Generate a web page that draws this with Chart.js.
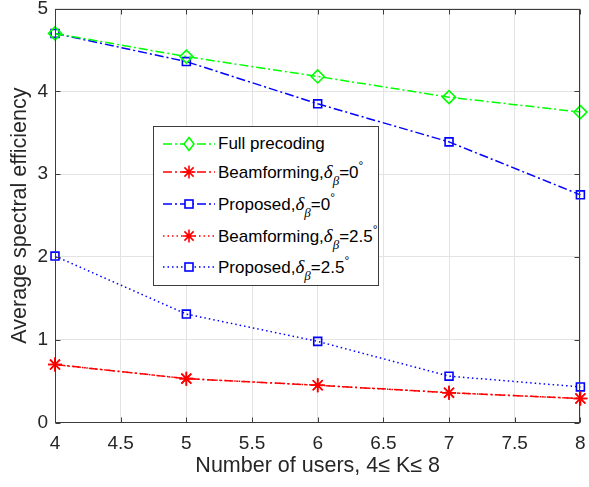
<!DOCTYPE html>
<html>
<head>
<meta charset="utf-8">
<script src="https://cdn.jsdelivr.net/npm/chart.js@4/dist/chart.umd.min.js"></script>
<style>
  html, body { margin: 0; padding: 0; background: #fff; }
  #wrap { position: relative; width: 589px; height: 487px; }
  #legend {
    position: absolute; left: 153px; top: 126px; width: 224px; height: 158px;
    border: 1px solid #3c3c3c; background: #fff;
    font-family: "Liberation Sans", Arial, sans-serif; font-size: 17px; color: #000;
  }
  .row { position: absolute; left: 0; height: 30px; display: flex; align-items: center; white-space: nowrap; }
  .row svg { flex: none; margin-left: 8px; }
  .row span.t { margin-left: 0px; }
  .row i { font-family: "Liberation Serif", "Times New Roman", serif; font-size: 19px; }
  .row sub { font-size: 13px; font-style: italic; font-family: "Liberation Serif", serif; vertical-align: -7px; line-height: 0; }
  .row sup { font-size: 12px; vertical-align: 8px; line-height: 0; }
</style>
</head>
<body>
<div id="wrap">
  <canvas id="chart" width="589" height="487"></canvas>
  <div id="legend"></div>
</div>
<script>
// DATA
const users = [4, 5, 6, 7, 8];
const fullPrecoding = [4.70, 4.42, 4.18, 3.93, 3.75];
const beamforming0 = [0.70, 0.53, 0.45, 0.36, 0.29];
const proposed0 = [4.70, 4.36, 3.85, 3.39, 2.75];
const beamforming25 = [0.70, 0.53, 0.45, 0.36, 0.29];
const proposed25 = [2.01, 1.31, 0.98, 0.56, 0.43];
const xTicks = [4, 4.5, 5, 5.5, 6, 6.5, 7, 7.5, 8];
const yTicks = [0, 1, 2, 3, 4, 5];

const DASHDOT = [9, 3, 2, 3];
const DOTTED = [1.5, 3];

const series = [
  {name: 'Full precoding', delta: null, values: fullPrecoding, color: '#00ff00', dash: DASHDOT, marker: 'rectRot'},
  {name: 'Beamforming,', delta: '0', values: beamforming0, color: '#ff0000', dash: DASHDOT, marker: 'star'},
  {name: 'Proposed,', delta: '0', values: proposed0, color: '#0000ff', dash: DASHDOT, marker: 'rect'},
  {name: 'Beamforming,', delta: '2.5', values: beamforming25, color: '#ff0000', dash: DOTTED, marker: 'star'},
  {name: 'Proposed,', delta: '2.5', values: proposed25, color: '#0000ff', dash: DOTTED, marker: 'rect'}
];

const RADIUS = {rectRot: 6.5, star: 7, rect: 5.6};

const datasets = series.map(s => ({
  label: s.name + (s.delta !== null ? 'δβ=' + s.delta + '°' : ''),
  data: users.map((u, i) => ({x: u, y: s.values[i]})),
  borderColor: s.color,
  borderWidth: 1.5,
  borderDash: s.dash,
  pointStyle: s.marker,
  pointRadius: RADIUS[s.marker],
  pointBorderColor: s.color,
  pointBackgroundColor: 'rgba(0,0,0,0)',
  pointBorderWidth: 1.6,
  tension: 0,
  clip: false
}));

// box round the plot area, with ticks pointing inward
const axisBox = {
  id: 'axisBox',
  afterDraw(chart) {
    const {ctx, chartArea: a, scales: {x, y}} = chart;
    const L = Math.round(a.left) + 0.5, R = Math.round(a.right) - 0.5;
    const T = Math.round(a.top) + 0.5, B = Math.round(a.bottom) - 0.5;
    const len = 5;
    ctx.save();
    ctx.strokeStyle = '#3c3c3c';
    ctx.lineWidth = 1;
    ctx.strokeRect(L, T, R - L, B - T);
    ctx.beginPath();
    xTicks.forEach(v => {
      const px = Math.round(x.getPixelForValue(v)) + 0.5;
      ctx.moveTo(px, B); ctx.lineTo(px, B - len);
      ctx.moveTo(px, T); ctx.lineTo(px, T + len);
    });
    yTicks.forEach(v => {
      const py = Math.round(y.getPixelForValue(v)) + 0.5;
      ctx.moveTo(L, py); ctx.lineTo(L + len, py);
      ctx.moveTo(R, py); ctx.lineTo(R - len, py);
    });
    ctx.stroke();
    ctx.restore();
  }
};

const FONT = '"Liberation Sans", Arial, Helvetica, sans-serif';

new Chart(document.getElementById('chart'), {
  type: 'line',
  data: {datasets: datasets},
  options: {
    responsive: false,
    animation: false,
    layout: {padding: {top: 8, right: 3, left: 0, bottom: 0}},
    plugins: {legend: {display: false}, tooltip: {enabled: false}},
    scales: {
      x: {
        type: 'linear', min: 4, max: 8,
        afterBuildTicks: s => { s.ticks = xTicks.map(v => ({value: v})); },
        ticks: {padding: 10, color: '#262626', font: {family: FONT, size: 19}, maxRotation: 0, autoSkip: false,
                callback: v => String(v)},
        grid: {color: '#e3e3e3', drawTicks: false},
        border: {display: false},
        title: {display: true, text: 'Number of users, 4≤ K≤ 8', color: '#262626',
                font: {family: FONT, size: 21.5}, padding: {top: 0, bottom: 8}},
        afterFit(s) { s.height = 64.5; s.paddingLeft = 0; s.paddingRight = 0; }
      },
      y: {
        min: 0, max: 5,
        afterBuildTicks: s => { s.ticks = yTicks.map(v => ({value: v})); },
        ticks: {padding: 7, color: '#262626', font: {family: FONT, size: 19}, callback: v => String(v)},
        grid: {color: '#e3e3e3', drawTicks: false},
        border: {display: false},
        title: {display: true, text: 'Average spectral efficiency', color: '#262626',
                font: {family: FONT, size: 21.5}, padding: {top: 7, bottom: 0}},
        afterFit(s) { s.width = 55; s.paddingTop = 0; s.paddingBottom = 0; }
      }
    }
  },
  plugins: [axisBox]
});

// LEGEND (html, so the subscripts can be real text)
const legend = document.getElementById('legend');
const rowTops = [2, 30, 62, 93.5, 125];
series.forEach((s, i) => {
  const row = document.createElement('div');
  row.className = 'row';
  row.style.top = rowTops[i] + 'px';
  const cx = 27, cy = 15;
  let mark = '';
  if (s.marker === 'rectRot') {
    mark = `<polygon points="${cx},${cy - 6.5} ${cx + 5},${cy} ${cx},${cy + 6.5} ${cx - 5},${cy}" fill="#fff" stroke="${s.color}" stroke-width="1.6"/>`;
  } else if (s.marker === 'rect') {
    mark = `<rect x="${cx - 4}" y="${cy - 4}" width="8" height="8" fill="#fff" stroke="${s.color}" stroke-width="1.6"/>`;
  } else {
    const r = 6.5, d = r * Math.SQRT1_2;
    mark = `<path d="M${cx - r} ${cy}H${cx + r}M${cx} ${cy - r}V${cy + r}M${cx - d} ${cy - d}L${cx + d} ${cy + d}M${cx - d} ${cy + d}L${cx + d} ${cy - d}" stroke="${s.color}" stroke-width="1.6"/>`;
  }
  const dash = s.dash.join(' ');
  row.innerHTML =
    `<svg width="56" height="30"><line x1="1" y1="${cy}" x2="53" y2="${cy}" stroke="${s.color}" stroke-width="1.5" stroke-dasharray="${dash}"/>${mark}</svg>` +
    `<span class="t">${s.name}${s.delta !== null ? `<i>δ</i><sub>β</sub>=${s.delta}<sup>°</sup>` : ''}</span>`;
  legend.appendChild(row);
});
</script>
</body>
</html>
